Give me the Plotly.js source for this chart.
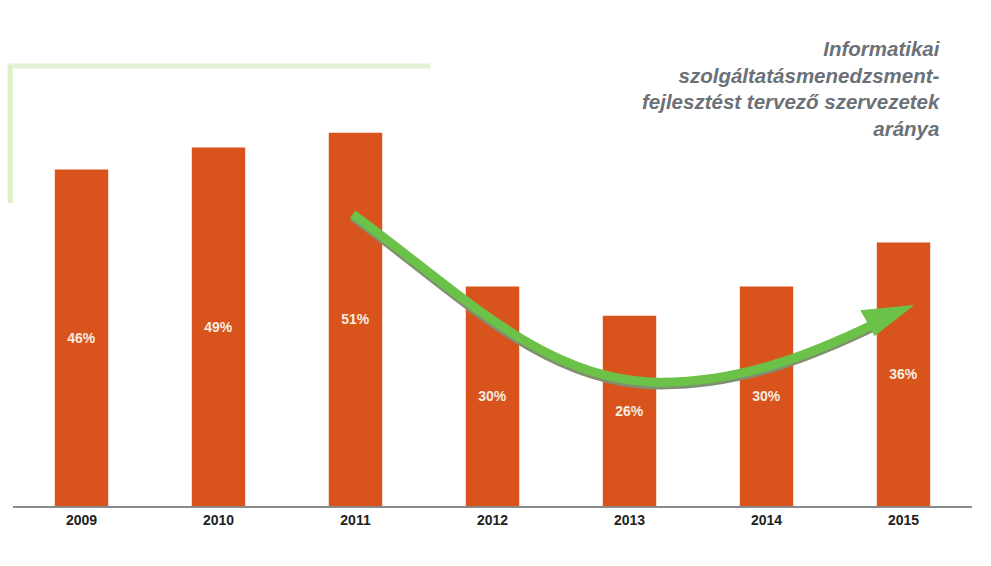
<!DOCTYPE html>
<html>
<head>
<meta charset="utf-8">
<script src="https://cdn.plot.ly/plotly-3.0.1.min.js"></script>
<style>html,body{margin:0;padding:0;background:#fff;}#chart{width:991px;height:566px;}</style>
</head>
<body>
<div id="chart"></div>
<script>
const years = ["2009", "2010", "2011", "2012", "2013", "2014", "2015"];
const shares = [46, 49, 51, 30, 26, 30, 36];
const labels = ["46%", "49%", "51%", "30%", "26%", "30%", "36%"];
const titleText = "Informatikai<br>szolgáltatásmenedzsment-<br>fejlesztést tervező szervezetek<br>aránya";

const xs = years.map((_, i) => i);

const trace = {
  type: "bar",
  x: xs,
  y: shares,
  text: labels,
  textposition: "inside",
  insidetextanchor: "middle",
  textangle: 0,
  textfont: {family: "Liberation Sans, Arial, sans-serif", size: 14, color: "#f6ece0", weight: "bold"},
  marker: {color: "#d8541c", line: {width: 0}},
  width: 0.39,
  hoverinfo: "none"
};

const arrowPath = "M 1.98,39.9 C 2.75,29.4 3.35,17.6 4.15,16.95 C 4.81,16.5 5.39,21.3 5.80,25.0";
const shadowPath = "M 1.98,39.6 C 2.75,29.1 3.35,17.3 4.15,16.65 C 4.81,16.2 5.39,21.0 5.80,24.7";

const layout = {
  width: 991,
  height: 566,
  margin: {l: 13, r: 19, t: 67, b: 60},
  paper_bgcolor: "#ffffff",
  plot_bgcolor: "#ffffff",
  showlegend: false,
  bargap: 0.6,
  xaxis: {
    range: [-0.5, 6.5],
    tickvals: xs,
    ticktext: years,
    showgrid: false,
    zeroline: false,
    showline: true,
    linecolor: "#8a8a8a",
    linewidth: 2,
    ticks: "",
    tickfont: {family: "Liberation Sans, Arial, sans-serif", size: 14, color: "#222222", weight: "bold"},
    fixedrange: true
  },
  yaxis: {
    range: [0, 60],
    visible: false,
    showgrid: false,
    zeroline: false,
    fixedrange: true
  },
  shapes: [
    {type: "line", xref: "paper", yref: "paper", x0: -0.005, x1: 0.435, y0: 1.002, y1: 1.002,
     line: {color: "#e4f1d2", width: 5}, layer: "below"},
    {type: "line", xref: "paper", yref: "paper", x0: -0.003, x1: -0.003, y0: 1.002, y1: 0.69,
     line: {color: "#dcefc6", width: 5}, layer: "below"},
    {type: "path", xref: "x", yref: "y", path: shadowPath,
     line: {color: "#7f9070", width: 10}},
    {type: "path", xref: "x", yref: "y", path: arrowPath,
     line: {color: "#6cc248", width: 9}},
    {type: "path", xref: "x", yref: "y",
     path: "M 6.07,27.4 L 5.69,26.7 L 5.73,25.4 L 5.79,23.3 Z",
     fillcolor: "#6cc248", line: {color: "#6cc248", width: 1}}
  ],
  annotations: [
    {xref: "paper", yref: "paper", x: 0.97, y: 1.072, xanchor: "right", yanchor: "top",
     showarrow: false, align: "right", text: "<i><b>" + titleText + "</b></i>",
     font: {family: "Liberation Sans, Arial, sans-serif", size: 20.5, color: "#6b7177"}}
  ]
};

Plotly.newPlot("chart", [trace], layout, {displayModeBar: false, staticPlot: true});
</script>
</body>
</html>
